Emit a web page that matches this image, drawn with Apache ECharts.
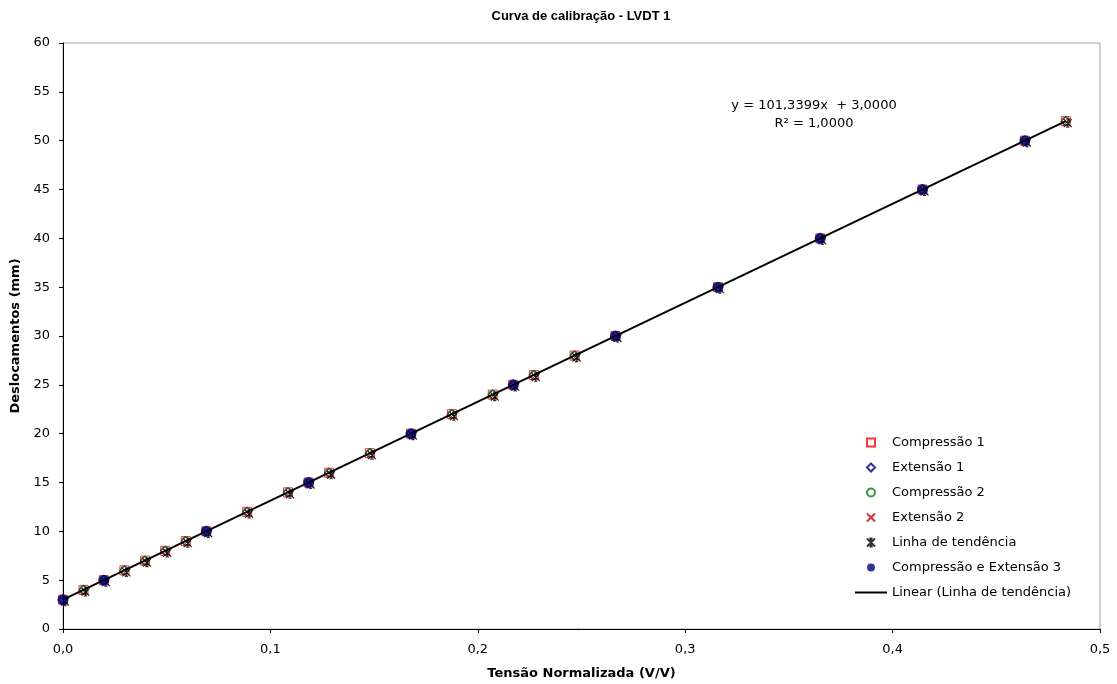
<!DOCTYPE html>
<html><head><meta charset="utf-8">
<script src="https://cdn.jsdelivr.net/npm/echarts@6/dist/echarts.min.js"></script>
<style>html,body{margin:0;padding:0;background:#fff}#c{width:1117px;height:684px}</style>
</head><body><div id="c"></div>
<script>
// Tensão normalizada (V/V)
const xVals = [0.0000,0.0099,0.0197,0.0296,0.0395,0.0493,0.0592,0.0691,0.0888,0.1085,0.1184,0.1283,0.1480,0.1678,0.1875,0.2072,0.2171,0.2270,0.2467,0.2664,0.3158,0.3651,0.4144,0.4638,0.4835];
// Deslocamentos (mm)
const yVals = [3,4,5,6,7,8,9,10,12,14,15,16,18,20,22,24,25,26,28,30,35,40,45,50,52];
// Compressão e Extensão 3
const x3 = [0.0000,0.0197,0.0691,0.1184,0.1678,0.2171,0.2664,0.3158,0.3651,0.4144,0.4638];
const y3 = [3,5,10,15,20,25,30,35,40,45,50];
const slope = [101.3399];
const intercept = [3.0000];
const xTicks = ['0,0','0,1','0,2','0,3','0,4','0,5'];

const pts = xVals.map((x,i)=>[x,yVals[i]]);
const pts3 = x3.map((x,i)=>[x,y3[i]]);
const xMax = Math.max(...xVals);
const trend = [[0, intercept[0]], [xMax, slope[0]*xMax + intercept[0]]];

const FONT = 'DejaVu Sans, sans-serif';
const TFONT = 'Liberation Sans, Arial, sans-serif';
const SQ = 'path://M0,0L10,0L10,10L0,10Z';
const DIA = 'path://M5,0L10,5L5,10L0,5Z';
const XS = 'path://M0,0L10,10M10,0L0,10';
const AST = 'path://M0,0L10,10M10,0L0,10M5,0L5,10M3,0L7,0M3,10L7,10';
const LINE = 'path://M0,0L64,0L64,4L0,4Z';

const chart = echarts.init(document.getElementById('c'));
chart.setOption({
  animation:false,
  backgroundColor:'#fff',
  title:{text:'Curva de calibração - LVDT 1', left:576, top:5, textAlign:'center',
    textStyle:{fontFamily:TFONT,fontSize:13,fontWeight:'bold',color:'#000'}},
  grid:{left:63,right:17,top:43,bottom:55,show:true,borderColor:'#a0a0a0',borderWidth:1,
    outerBoundsMode:'none',containLabel:false},
  xAxis:{type:'value',min:0,max:0.5,interval:0.1,
    name:'Tensão Normalizada (V/V)',nameLocation:'middle',nameGap:38,
    nameTextStyle:{fontFamily:FONT,fontSize:13,fontWeight:'bold',color:'#000'},
    axisLine:{lineStyle:{color:'#000',width:1}},
    axisTick:{show:true,length:4,inside:false,lineStyle:{color:'#000'}},
    axisLabel:{fontFamily:FONT,fontSize:13,color:'#000',margin:14,
      formatter:(v)=>xTicks[Math.round(v*10)]},
    splitLine:{show:false}},
  yAxis:{type:'value',min:0,max:60,interval:5,
    name:'Deslocamentos (mm)',nameLocation:'middle',nameGap:34,
    nameTextStyle:{fontFamily:FONT,fontSize:13,fontWeight:'bold',color:'#000'},
    axisLine:{show:true,lineStyle:{color:'#000',width:1}},
    axisTick:{show:true,length:4,lineStyle:{color:'#000'}},
    axisLabel:{fontFamily:FONT,fontSize:13,color:'#000',margin:13},
    splitLine:{show:false}},
  legend:{orient:'vertical',left:850,top:431,itemGap:12,itemWidth:32,itemHeight:8,
    textStyle:{fontFamily:FONT,fontSize:13,color:'#000'},
    data:[
      {name:'Compressão 1',icon:SQ},
      {name:'Extensão 1',icon:DIA},
      {name:'Compressão 2',icon:'circle'},
      {name:'Extensão 2',icon:XS},
      {name:'Linha de tendência',icon:AST},
      {name:'Compressão e Extensão 3',icon:'circle'},
      {name:'Linear (Linha de tendência)',icon:LINE,itemStyle:{color:'#000',borderWidth:0}}
    ]},
  graphic:[
    {type:'text',x:814,y:106,style:{text:'y = 101,3399x  + 3,0000',fontFamily:FONT,fontSize:13,fill:'#000',align:'center',verticalAlign:'middle'}},
    {type:'text',x:814,y:124,style:{text:'R² = 1,0000',fontFamily:FONT,fontSize:13,fill:'#000',align:'center',verticalAlign:'middle'}}
  ],
  series:[
    {name:'Compressão 1',type:'scatter',data:pts,symbol:SQ,symbolSize:9,
      itemStyle:{color:'rgba(0,0,0,0)',borderColor:'#ff0000',borderWidth:1}},
    {name:'Extensão 1',type:'scatter',data:pts,symbol:DIA,symbolSize:9,
      itemStyle:{color:'rgba(0,0,0,0)',borderColor:'#000080',borderWidth:1.2}},
    {name:'Compressão 2',type:'scatter',data:pts,symbol:'circle',symbolSize:8,
      itemStyle:{color:'rgba(0,0,0,0)',borderColor:'#008000',borderWidth:1.2}},
    {name:'Extensão 2',type:'scatter',data:pts,symbol:XS,symbolSize:8,symbolOffset:[1,1],
      itemStyle:{color:'rgba(0,0,0,0)',borderColor:'#c00000',borderWidth:1}},
    {name:'Linha de tendência',type:'scatter',data:pts,symbol:AST,symbolSize:8,symbolOffset:[2,2],
      itemStyle:{color:'rgba(0,0,0,0)',borderColor:'#000',borderWidth:1.2}},
    {name:'Compressão e Extensão 3',type:'scatter',data:pts3,symbol:'circle',symbolSize:11,
      itemStyle:{color:'#000080',borderColor:'#000080',borderWidth:0}},
    {name:'Linear (Linha de tendência)',type:'line',data:trend,symbol:'none',z:10,
      lineStyle:{color:'#000',width:2},itemStyle:{color:'#000'}}
  ]
});
</script></body></html>
